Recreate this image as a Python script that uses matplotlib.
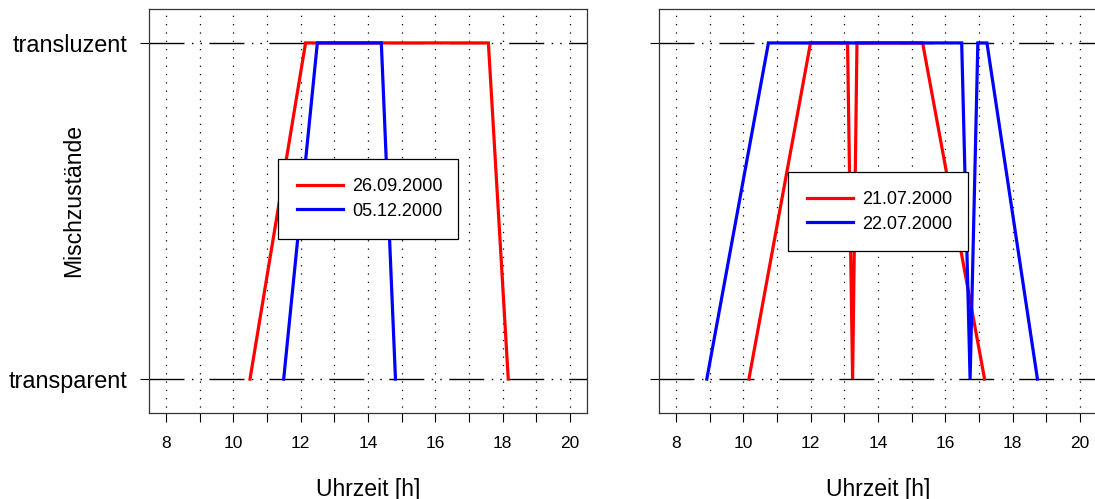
import matplotlib
matplotlib.use("Agg")
import matplotlib.pyplot as plt

plt.rcParams["font.family"] = ["Liberation Sans", "DejaVu Sans"]

# states: 0 = transparent, 1 = transluzent
state_labels = ["transparent", "transluzent"]

# left panel
left_names = ["26.09.2000", "05.12.2000"]
left_red_t = [10.5, 12.15, 17.58, 18.17]
left_red_s = [0, 1, 1, 0]
left_blue_t = [11.5, 12.5, 14.4, 14.82]
left_blue_s = [0, 1, 1, 0]

# right panel
right_names = ["21.07.2000", "22.07.2000"]
right_red_t = [10.17, 12.0, 13.1, 13.25, 13.38, 15.33, 17.17]
right_red_s = [0, 1, 1, 0, 1, 1, 0]
right_blue_t = [8.92, 10.75, 16.49, 16.74, 16.97, 17.24, 18.74]
right_blue_s = [0, 1, 1, 0, 1, 1, 0]

hours = list(range(8, 21))
hour_labels = [str(h) for h in range(8, 21, 2)]

W, H = 1095, 499
fig = plt.figure(figsize=(W / 100, H / 100), dpi=100)

ax_w = 437.7 / W
ax_h = 403.4 / H
ax_b = 1 - 412.7 / H
ax1 = fig.add_axes([149 / W, ax_b, ax_w, ax_h])
ax2 = fig.add_axes([659 / W, ax_b, ax_w, ax_h])

panels = [
    (ax1, left_red_t, left_red_s, left_blue_t, left_blue_s, left_names, 0.6289),
    (ax2, right_red_t, right_red_s, right_blue_t, right_blue_s, right_names, 0.5967),
]

for ax, rt, rs, bt, bs, names, leg_top in panels:
    for h in hours:
        ax.axvline(h, color="black", lw=0.9, ls=(2, (1, 5.65)), zorder=1)
    for s in [0, 1]:
        ax.axhline(s, color="black", lw=1.0,
                   ls=(0, (35 / 1.39, 7.5 / 1.39, 1.5 / 1.39, 7 / 1.39, 1.5 / 1.39, 7.5 / 1.39)),
                   zorder=1)
    ax.plot(rt, rs, color="#ff0000", lw=2.3, label=names[0], zorder=3,
            solid_joinstyle="miter")
    ax.plot(bt, bs, color="#0000ff", lw=2.3, label=names[1], zorder=4,
            solid_joinstyle="miter")
    ax.set_xlim(7.5, 20.5)
    ax.set_ylim(-0.1, 1.1)
    ax.set_xticks(list(range(8, 21, 2)))
    ax.set_xticklabels(hour_labels, fontsize=12.5)
    ax.set_xticks(list(range(9, 21, 2)), minor=True)
    ax.set_yticks([0, 1])
    ax.tick_params(axis="both", which="both", direction="out", length=6.5,
                   width=0.8, color="black")
    ax.tick_params(axis="x", pad=10)
    ax.tick_params(axis="y", pad=9, labelsize=16.8)
    for sp in ax.spines.values():
        sp.set_linewidth(0.9)
        sp.set_color("#333333")
    leg = ax.legend(loc="upper left", bbox_to_anchor=(0.2947, 0, 0.4112, leg_top),
                    mode="expand", borderaxespad=0, fontsize=13, fancybox=False,
                    edgecolor="black", framealpha=1, handlelength=2.55,
                    handletextpad=0.5, borderpad=1.05, labelspacing=0.42)
    leg.get_frame().set_linewidth(0.9)
    leg.set_zorder(5)

ax1.set_yticklabels(state_labels)
ax2.set_yticklabels(["", ""])

for cx in [(149 + 586.7) / 2, (659 + 1096.7) / 2]:
    fig.text(cx / W, 1 - 496 / H, "Uhrzeit [h]", ha="center", va="baseline",
             fontsize=16.6)
fig.text(73.7 / W, 1 - 200 / H, "Mischzustände", rotation=90, ha="center",
         va="center", fontsize=16.6)

fig.savefig("out.png", dpi=100)
